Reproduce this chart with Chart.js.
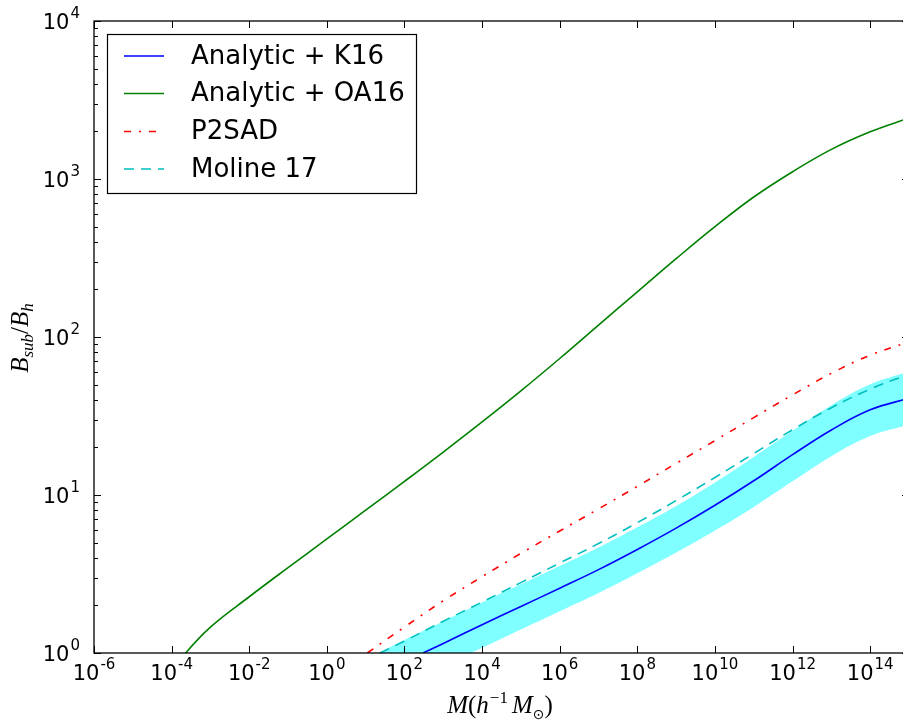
<!DOCTYPE html>
<html>
<head>
<meta charset="utf-8">
<script src="https://cdn.jsdelivr.net/npm/chart.js@4.4.1/dist/chart.umd.min.js"></script>
<style>
html, body { margin: 0; padding: 0; background: #fff; overflow: hidden; width: 903px; height: 720px; }
canvas { display: block; }
</style>
</head>
<body>
<canvas id="c" width="909" height="720"></canvas>
<script>
// ---- data ----
const legendLabels = ['Analytic + K16', 'Analytic + OA16', 'P2SAD', 'Moline 17'];

const massOA16 = [1e-4, 2.3e-4, 1e-3, 1e-2, 1e-1, 1, 1e1, 1e2, 1e3, 1e4, 1e5, 1e6, 1e7, 1e8, 1e9, 1e10, 1e11, 1e12, 1e13, 1e14, 1e15];
const bOA16    = [0.75, 1.0, 1.46, 2.27, 3.47, 5.27, 8.02, 12.2, 18.7, 29.0, 45.6, 73.1, 119, 193, 313, 499, 769, 1112, 1540, 1990, 2432];

const massP2SAD = [11, 1e2, 1e3, 1e4, 1e5, 1e6, 1e7, 1e8, 1e9, 1e10, 1e11, 1e12, 1e13, 1e14, 1e15];
const bP2SAD    = [1.0, 1.46, 2.14, 3.04, 4.27, 5.92, 8.17, 11.35, 15.85, 22.1, 30.9, 43.0, 58.9, 76.7, 93.3];

const massMoline = [23.4, 1e2, 1e3, 1e4, 1e5, 1e6, 1e7, 1e8, 1e9, 1e10, 1e11, 1e12, 1e13, 1e14, 1e15];
const bMoline    = [1.0, 1.19, 1.59, 2.10, 2.79, 3.71, 4.93, 6.68, 9.23, 12.9, 18.3, 25.9, 35.7, 46.8, 58.2];

const massK16 = [302, 1e3, 1e4, 1e5, 1e6, 1e7, 1e8, 1e9, 1e10, 1e11, 1e12, 1e13, 1e14, 1e15];
const bK16    = [1.0, 1.15, 1.51, 1.97, 2.57, 3.37, 4.52, 6.17, 8.61, 12.3, 18.0, 25.8, 34.6, 41.0];

const massBand  = [20.9, 1e2, 1e3, 1e4, 1e5, 1e6, 1e7, 1e8, 1e9, 1e10, 1e11, 1e12, 1e13, 1e14, 1e15];
const bandUpper = [1.0, 1.21, 1.59, 2.09, 2.72, 3.55, 4.65, 6.24, 8.51, 12.0, 17.4, 25.5, 37.0, 50.2, 60.5];
const bandLower = [0.525, 0.631, 0.83, 1.08, 1.41, 1.84, 2.40, 3.20, 4.32, 5.96, 8.41, 12.2, 17.6, 23.6, 27.8];

const xTickValues = [1e-6, 1e-4, 1e-2, 1e0, 1e2, 1e4, 1e6, 1e8, 1e10, 1e12, 1e14];
const xTickExps   = ['-6', '-4', '-2', '0', '2', '4', '6', '8', '10', '12', '14'];
const yTickValues = [1, 10, 100, 1000, 10000];
const yTickExps   = ['0', '1', '2', '3', '4'];
const yMinorMult  = [2, 3, 4, 5, 6, 7, 8, 9];

const xMin = 1e-6, xMax = 1e15, yMin = 1, yMax = 1e4;

function pts(xs, ys) { return xs.map((x, i) => ({ x: x, y: ys[i] })); }

const colors = { k16: '#0000ff', oa16: '#008000', p2sad: '#ff0000', moline: '#00bfbf', band: 'rgba(0,255,255,0.5)' };
const dashes = { k16: [], oa16: [], p2sad: [7, 8, 2, 8], moline: [10, 7] };

const SANS = '"DejaVu Sans", sans-serif';
const SERIF = '"Liberation Serif", "DejaVu Serif", serif';

function drawPow(ctx, base, exp, x, y, align) {
  ctx.font = '21px ' + SANS;
  const wb = ctx.measureText(base).width;
  ctx.font = '15px ' + SANS;
  const we = ctx.measureText(exp).width;
  const total = wb + we + 1;
  let x0 = x;
  if (align === 'center') x0 = x - total / 2;
  else if (align === 'right') x0 = x - total;
  ctx.textAlign = 'left';
  ctx.textBaseline = 'alphabetic';
  ctx.fillStyle = '#000';
  ctx.font = '21px ' + SANS;
  ctx.fillText(base, x0, y);
  ctx.font = '15px ' + SANS;
  ctx.fillText(exp, x0 + wb + 1, y - 11);
}

function drawPieces(ctx, pieces, cx, cy) {
  let total = 0;
  pieces.forEach(p => { ctx.font = p.font; p.w = ctx.measureText(p.t).width; total += p.w + (p.gap || 0); });
  let x = cx - total / 2;
  ctx.textAlign = 'left';
  ctx.textBaseline = 'alphabetic';
  ctx.fillStyle = '#000';
  pieces.forEach(p => { ctx.font = p.font; ctx.fillText(p.t, x, cy + (p.dy || 0)); x += p.w + (p.gap || 0); });
}

const axesPlugin = {
  id: 'mplAxes',
  afterDraw(chart) {
    const ctx = chart.ctx;
    const xs = chart.scales.x, ys = chart.scales.y;
    const a = chart.chartArea;
    ctx.save();
    ctx.strokeStyle = '#000';
    ctx.lineWidth = 1.3;
    ctx.setLineDash([]);
    ctx.strokeRect(a.left, a.top, a.right - a.left, a.bottom - a.top);
    ctx.lineWidth = 1;
    ctx.beginPath();
    xTickValues.forEach(v => {
      const px = Math.round(xs.getPixelForValue(v)) + 0.5;
      ctx.moveTo(px, a.bottom); ctx.lineTo(px, a.bottom - 7);
      ctx.moveTo(px, a.top); ctx.lineTo(px, a.top + 7);
    });
    yTickValues.forEach((v, i) => {
      const py = Math.round(ys.getPixelForValue(v)) + 0.5;
      ctx.moveTo(a.left, py); ctx.lineTo(a.left + 7, py);
      ctx.moveTo(a.right, py); ctx.lineTo(a.right - 7, py);
      if (i < yTickValues.length - 1) {
        yMinorMult.forEach(m => {
          const pm = Math.round(ys.getPixelForValue(v * m)) + 0.5;
          ctx.moveTo(a.left, pm); ctx.lineTo(a.left + 4, pm);
          ctx.moveTo(a.right, pm); ctx.lineTo(a.right - 4, pm);
        });
      }
    });
    ctx.stroke();
    xTickValues.forEach((v, i) => {
      drawPow(ctx, '10', xTickExps[i], xs.getPixelForValue(v), a.bottom + 27, 'center');
    });
    yTickValues.forEach((v, i) => {
      drawPow(ctx, '10', yTickExps[i], a.left - 14, ys.getPixelForValue(v) + 8, 'right');
    });
    const it = 'italic 25px ' + SERIF, rm = '25px ' + SERIF, sm = '17px ' + SERIF, smi = 'italic 17px ' + SERIF;
    drawPieces(ctx, [
      { t: 'M', font: it },
      { t: '(', font: rm },
      { t: 'h', font: it, gap: 1 },
      { t: '\u22121', font: sm, dy: -10, gap: 4 },
      { t: 'M', font: it },
      { t: '\u2299', font: '14px "DejaVu Sans", sans-serif', dy: 6 },
      { t: ')', font: rm }
    ], 500, 713);
    ctx.save();
    ctx.translate(28, 338);
    ctx.rotate(-Math.PI / 2);
    drawPieces(ctx, [
      { t: 'B', font: it },
      { t: 'sub', font: smi, dy: 5 },
      { t: '/', font: rm },
      { t: 'B', font: it },
      { t: 'h', font: smi, dy: 5 }
    ], 0, 0);
    ctx.restore();
    // legend
    const L = 107, T = 34, R = 416, B = 193;
    ctx.fillStyle = '#fff';
    ctx.fillRect(L, T, R - L, B - T);
    ctx.strokeStyle = '#000';
    ctx.lineWidth = 1.2;
    ctx.strokeRect(L + 0.5, T + 0.5, R - L, B - T);
    const rowY = [56, 93.5, 131.5, 169];
    const keys = ['k16', 'oa16', 'p2sad', 'moline'];
    keys.forEach((k, i) => {
      ctx.beginPath();
      ctx.strokeStyle = colors[k];
      ctx.lineWidth = 1.5;
      ctx.setLineDash(dashes[k]);
      ctx.moveTo(124, rowY[i]); ctx.lineTo(164, rowY[i]);
      ctx.stroke();
      ctx.setLineDash([]);
      ctx.fillStyle = '#000';
      ctx.font = '26px ' + SANS;
      ctx.textAlign = 'left';
      ctx.textBaseline = 'middle';
      ctx.fillText(legendLabels[i], 191, rowY[i] + 1);
    });
    ctx.restore();
  }
};

new Chart(document.getElementById('c'), {
  type: 'line',
  data: {
    datasets: [
      { label: 'band upper', data: pts(massBand, bandUpper), borderColor: 'transparent', borderWidth: 0, backgroundColor: colors.band, fill: '+1', order: 5 },
      { label: 'band lower', data: pts(massBand, bandLower), borderColor: 'transparent', borderWidth: 0, backgroundColor: colors.band, fill: false, order: 5 },
      { label: legendLabels[0], data: pts(massK16, bK16), borderColor: colors.k16, borderWidth: 1.6, fill: false, order: 1 },
      { label: legendLabels[1], data: pts(massOA16, bOA16), borderColor: colors.oa16, borderWidth: 1.6, fill: false, order: 1 },
      { label: legendLabels[2], data: pts(massP2SAD, bP2SAD), borderColor: colors.p2sad, borderWidth: 1.6, borderDash: dashes.p2sad, fill: false, order: 1 },
      { label: legendLabels[3], data: pts(massMoline, bMoline), borderColor: colors.moline, borderWidth: 1.6, borderDash: dashes.moline, fill: false, order: 1 }
    ]
  },
  options: {
    responsive: false,
    animation: false,
    devicePixelRatio: 1,
    layout: { padding: { left: 94, top: 21, right: 0, bottom: 67 } },
    elements: { point: { radius: 0 }, line: { tension: 0.4 } },
    scales: {
      x: { type: 'logarithmic', min: xMin, max: xMax, display: false },
      y: { type: 'logarithmic', min: yMin, max: yMax, display: false }
    },
    plugins: { legend: { display: false }, tooltip: { enabled: false } }
  },
  plugins: [axesPlugin]
});
</script>
</body>
</html>
